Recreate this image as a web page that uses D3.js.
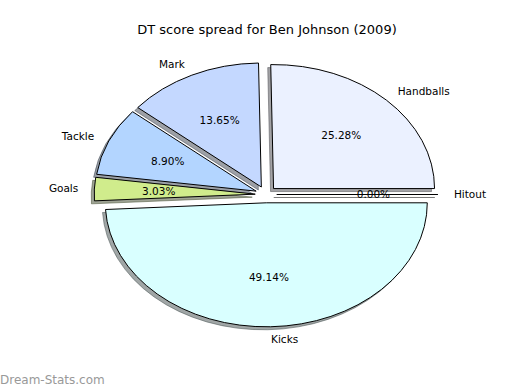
<!DOCTYPE html>
<html>
<head>
<meta charset="utf-8">
<script src="https://cdn.jsdelivr.net/npm/d3@7"></script>
<style>
  body { margin: 0; background: #fff; }
  svg { display: block; font-family: "DejaVu Sans", sans-serif; }
</style>
</head>
<body>
<svg width="520" height="390"></svg>
<script>
// DT score spread pie, matplotlib style: exploded wedges with shadows
const labels = ['Hitout', 'Handballs', 'Mark', 'Tackle', 'Goals', 'Kicks'];
const values = [0.00, 25.28, 13.65, 8.90, 3.03, 49.14];
const colors = ['#ffffff', '#ebf1ff', '#c4d8ff', '#b3d5ff', '#d0ec8c', '#d9ffff'];

const svg = d3.select('svg');
const width = 520;
const height = 390;

const cx = 266;
const cy = 194.5;
const rx = 161;
const ry = 124;
const explode = 0.067;

// title
svg.append('text')
  .attr('x', 267)
  .attr('y', 34)
  .attr('text-anchor', 'middle')
  .attr('font-size', 13)
  .attr('fill', '#000')
  .text('DT score spread for Ben Johnson (2009)');

// counter-clockwise from 3 o'clock like matplotlib
const pie = d3.pie()
  .sort(null)
  .startAngle(Math.PI / 2)
  .endAngle(Math.PI / 2 - 2 * Math.PI)
  .value(d => d);

const arcs = pie(values);
const arc = d3.arc().innerRadius(0).outerRadius(rx);

const dir = a => [Math.sin(a), -Math.cos(a)];
const mid = d => (d.startAngle + d.endAngle) / 2;
const offset = (d, k) => {
  const [ux, uy] = dir(mid(d));
  return [cx + k * rx * ux, cy + k * ry * uy];
};
const shade = c => {
  const r = d3.rgb(c);
  return d3.rgb(r.r * 0.3, r.g * 0.3, r.b * 0.3);
};

const graf = svg.append('g');

// shadows first, behind every wedge
graf.selectAll('path.shadow')
  .data(arcs)
  .enter()
  .append('path')
    .attr('class', 'shadow')
    .attr('d', arc)
    .attr('transform', d => {
      const [x, y] = offset(d, explode);
      return `translate(${x - 3},${y + 3}) scale(1,${ry / rx})`;
    })
    .attr('fill', (d, i) => shade(colors[i]))
    .attr('stroke', (d, i) => shade(colors[i]))
    .attr('fill-opacity', 0.5)
    .attr('stroke-opacity', 0.5)
    .attr('stroke-width', 1)
    .attr('vector-effect', 'non-scaling-stroke');

// wedges
graf.selectAll('path.wedge')
  .data(arcs)
  .enter()
  .append('path')
    .attr('class', 'wedge')
    .attr('d', arc)
    .attr('transform', d => {
      const [x, y] = offset(d, explode);
      return `translate(${x},${y}) scale(1,${ry / rx})`;
    })
    .attr('fill', (d, i) => colors[i])
    .attr('stroke', '#000')
    .attr('stroke-width', 1)
    .attr('vector-effect', 'non-scaling-stroke');

// category labels at 1.1 radius
graf.selectAll('text.label')
  .data(arcs)
  .enter()
  .append('text')
    .attr('class', 'label')
    .attr('x', d => offset(d, explode + 1.1)[0])
    .attr('y', d => offset(d, explode + 1.1)[1])
    .attr('dy', '0.35em')
    .attr('text-anchor', d => Math.sin(mid(d)) > 0 ? 'start' : 'end')
    .attr('font-size', 10.5)
    .attr('fill', '#000')
    .text((d, i) => labels[i]);

// percentage labels at 0.6 radius
graf.selectAll('text.pct')
  .data(arcs)
  .enter()
  .append('text')
    .attr('class', 'pct')
    .attr('x', d => offset(d, explode + 0.6)[0])
    .attr('y', d => offset(d, explode + 0.6)[1])
    .attr('dy', '0.35em')
    .attr('text-anchor', 'middle')
    .attr('font-size', 10.5)
    .attr('fill', '#000')
    .text(d => d.value.toFixed(2) + '%');

// watermark
svg.append('text')
  .attr('x', 0)
  .attr('y', 384)
  .attr('font-size', 12)
  .attr('fill', '#999999')
  .text('Dream-Stats.com');
</script>
</body>
</html>
